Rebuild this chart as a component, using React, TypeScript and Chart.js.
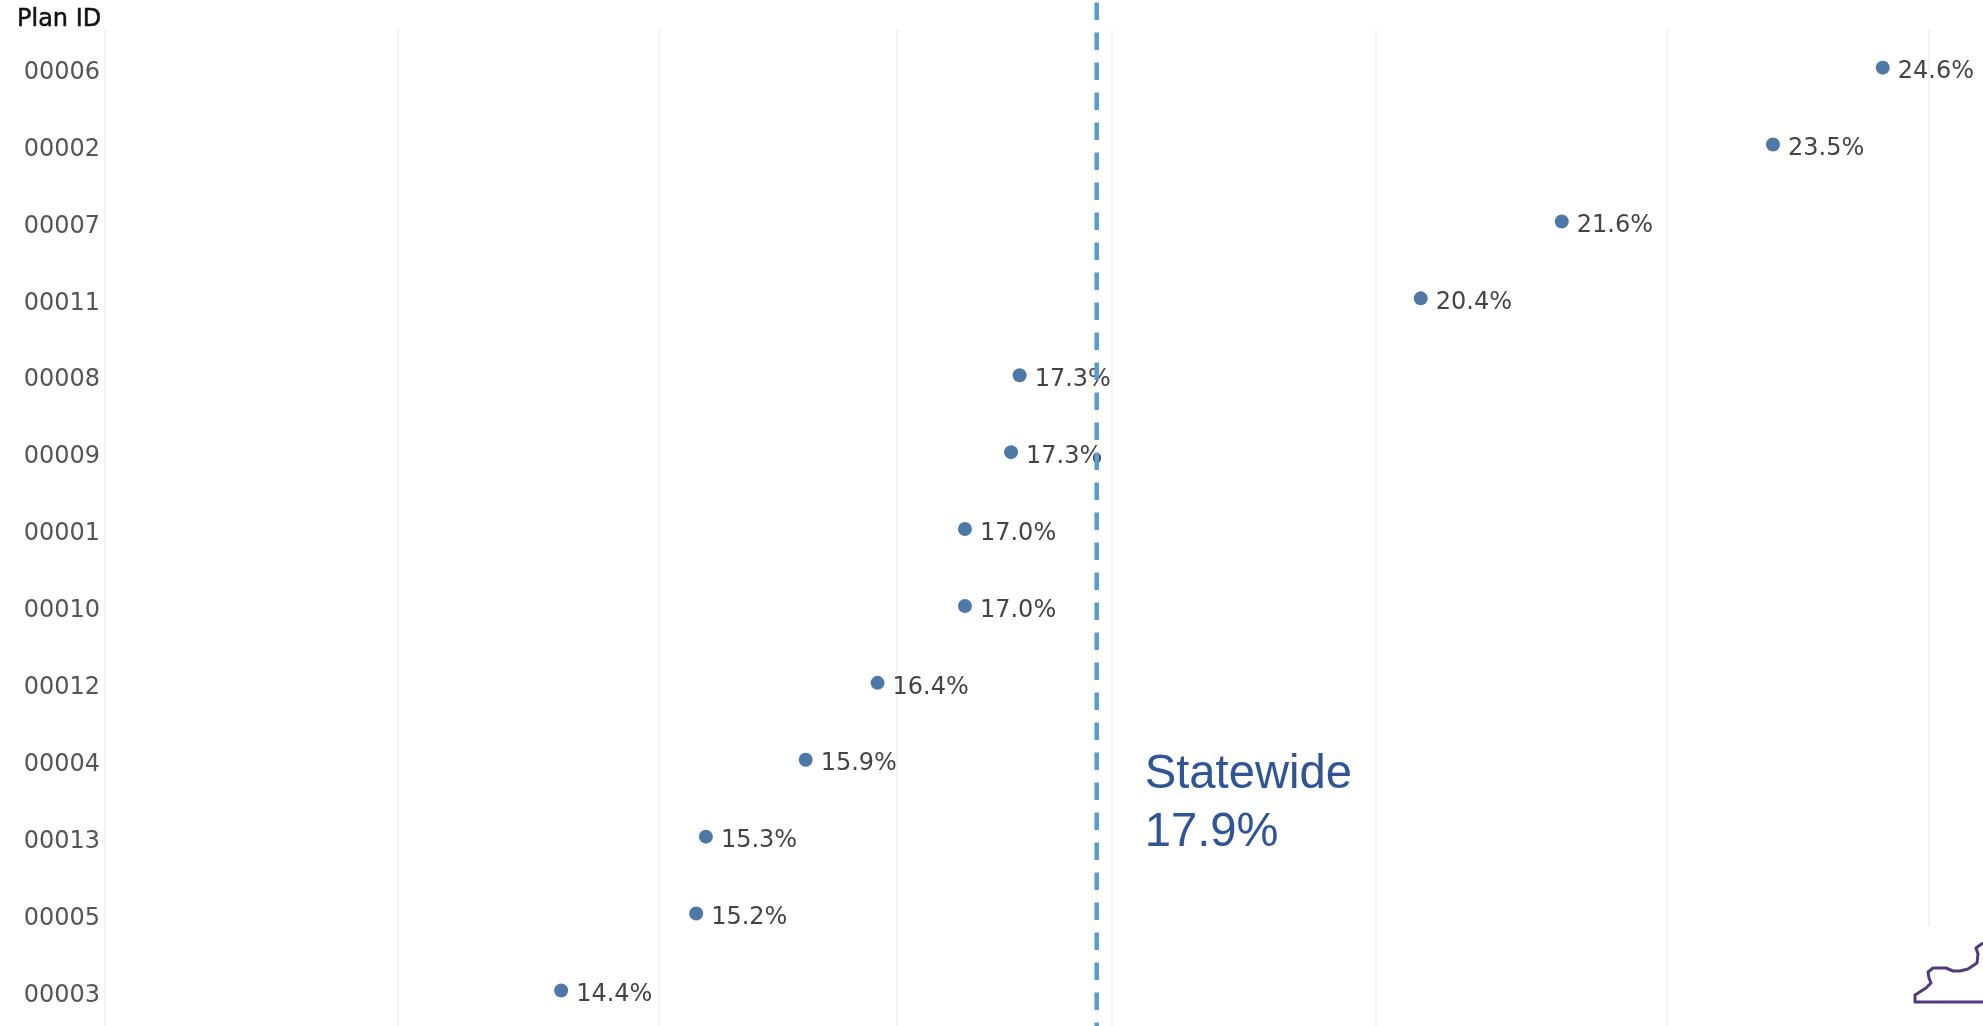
import React, { useEffect, useRef } from "react";
import { Chart, registerables } from "chart.js";

Chart.register(...registerables);

const planIds = ["00006","00002","00007","00011","00008","00009","00001","00010","00012","00004","00013","00005","00003"];
const planRates = [24.6,23.53,21.6,20.4,17.34,17.28,16.96,16.96,16.37,15.9,15.27,15.21,14.4];
const gridValues = [11.97,13.48,14.98,16.5,18,20.03,22.54,25.07];
const statewideRate = 17.89;
const statewideLines = ["Statewide", "17.9%"];
const axisTitle = "Plan ID";

const FONT = '"DejaVu Sans", sans-serif';

const textPlugin = {
  id: "textPlugin",
  afterDatasetDraw(chart: any, args: any) {
    if (args.index !== 0) return;
    const ctx = chart.ctx;
    const meta = chart.getDatasetMeta(0);
    ctx.save();
    ctx.font = `24px ${FONT}`;
    ctx.fillStyle = "#444444";
    ctx.textAlign = "left";
    ctx.textBaseline = "middle";
    meta.data.forEach((pt: any, i: number) => {
      ctx.fillText(planRates[i].toFixed(1) + "%", pt.x + 15, pt.y + 4.5);
    });
    ctx.restore();
  },
  afterDraw(chart: any) {
    const ctx = chart.ctx;
    const xs = chart.scales.x;
    ctx.save();
    ctx.textAlign = "left";
    ctx.textBaseline = "alphabetic";
    ctx.font = `24px ${FONT}`;
    ctx.fillStyle = "#111111";
    ctx.strokeStyle = "#111111";
    ctx.lineWidth = 0.5;
    ctx.fillText(axisTitle, 17, 25.5);
    ctx.strokeText(axisTitle, 17, 25.5);
    ctx.font = '47.2px "Liberation Sans", Arial, sans-serif';
    ctx.fillStyle = "#2F5597";
    const x0 = xs.getPixelForValue(statewideRate) + 48;
    statewideLines.forEach((t, i) => ctx.fillText(t, x0, 788 + i * 58));
    ctx.restore();
  },
};

export default function App() {
  const ref = useRef<HTMLCanvasElement>(null);
  useEffect(() => {
    const chart = new Chart(ref.current as HTMLCanvasElement, {
      type: "scatter",
      data: {
        datasets: [
          {
            label: "Plan rate",
            data: planRates.map((v, i) => ({ x: v, y: i })),
            backgroundColor: "#4E79A7",
            borderColor: "#4E79A7",
            pointRadius: 7,
            pointBorderWidth: 0,
            showLine: false,
            order: 1,
            clip: false,
          },
          {
            label: "Statewide",
            data: [
              { x: statewideRate, y: -0.847 },
              { x: statewideRate, y: 12.52 },
            ],
            showLine: true,
            borderColor: "#5B9BD5",
            borderWidth: 4.5,
            borderDash: [17.5, 12.5],
            pointRadius: 0,
            order: 0,
            clip: false,
          },
        ],
      },
      options: {
        animation: false,
        responsive: false,
        layout: { autoPadding: false, padding: { top: 29.2, bottom: 1.1, left: 0, right: 0 } },
        plugins: { legend: { display: false }, tooltip: { enabled: false } },
        scales: {
          x: {
            type: "logarithmic",
            min: 11.97,
            max: 25.62,
            border: { display: false },
            grid: { color: "#f3f3f3", lineWidth: 2, drawTicks: false },
            ticks: { display: false },
            afterBuildTicks(scale: any) {
              scale.ticks = gridValues.map((value) => ({ value }));
            },
          },
          y: {
            type: "linear",
            reverse: true,
            min: -0.5,
            max: 12.5,
            border: { display: false },
            grid: { display: false, drawTicks: false },
            afterBuildTicks(scale: any) {
              scale.ticks = planIds.map((_, value) => ({ value }));
            },
            afterFit(scale: any) {
              scale.width = 105;
              scale.paddingTop = 0;
              scale.paddingBottom = 0;
            },
            ticks: {
              autoSkip: false,
              padding: 5,
              labelOffset: 5,
              color: "#555555",
              font: { family: FONT, size: 24 },
              callback: (v: any) => planIds[v],
            },
          },
        },
      },
      plugins: [textPlugin],
    } as any);
    return () => chart.destroy();
  }, []);

  return (
    <div style={{ position: "fixed", left: 0, top: 0, width: 1983, height: 1026, overflow: "hidden", background: "#fff" }}>
      <canvas ref={ref} width={1983} height={1030} style={{ display: "block" }} />
      <svg width={1983} height={1026} style={{ position: "absolute", left: 0, top: 0 }}>
        <rect x={1905} y={926} width={78} height={100} fill="#ffffff" />
        <path
          d="M1983 943 L1976 948 L1978 954 L1977 963 L1968 969 L1960 971 L1953 971 L1946 968 L1933 968 L1928 972 L1929 978 L1931 983 L1926 988 L1915 995 L1915 1002 L1983 1002"
          fill="none"
          stroke="#4F3A7F"
          strokeWidth={3}
          strokeLinejoin="round"
        />
      </svg>
    </div>
  );
}
